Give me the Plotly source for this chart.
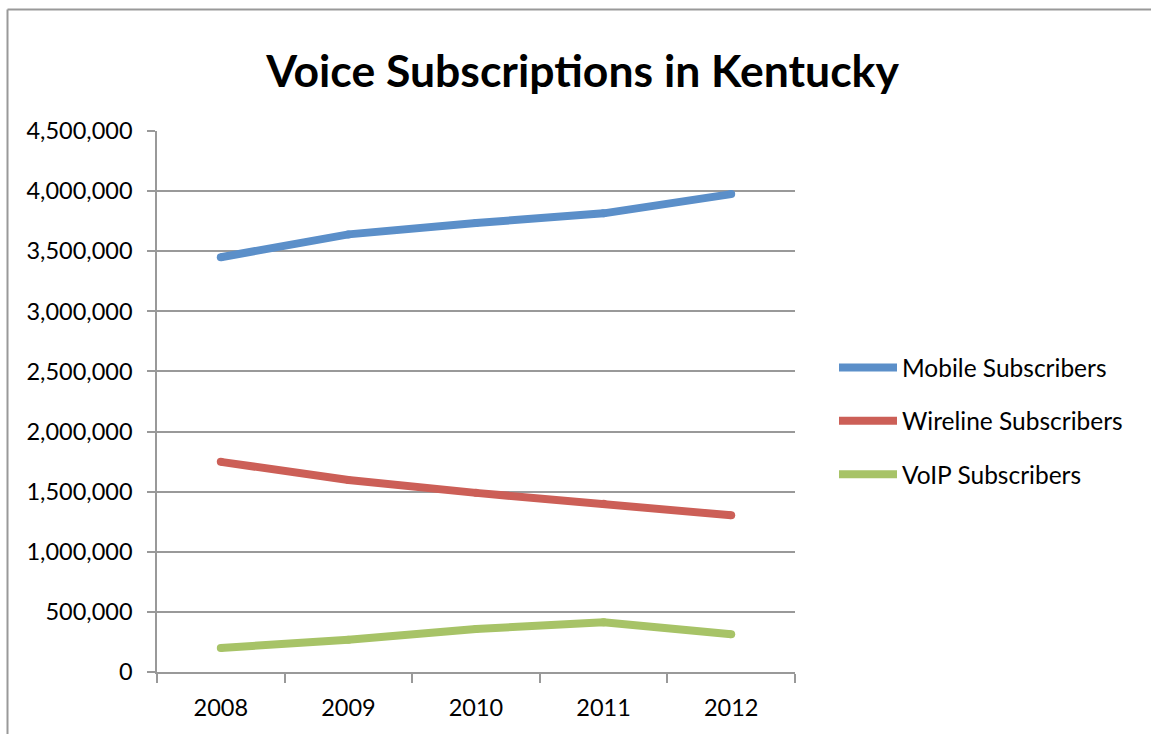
import plotly.graph_objects as go

years = ["2008", "2009", "2010", "2011", "2012"]
mobile = [3450000, 3640000, 3735000, 3815000, 3975000]
wireline = [1748000, 1597000, 1490000, 1400000, 1303000]
voip = [200000, 268000, 358000, 413000, 314000]

series_names = ["Mobile Subscribers", "Wireline Subscribers", "VoIP Subscribers"]
series_values = [mobile, wireline, voip]
colors = ["#5B8FC9", "#CC5F57", "#A7C367"]

W, H = 1151, 734
L, R, T, B = 157, 795, 131, 672
FONT = "Lato"

fig = go.Figure()
for i, (name, vals, col) in enumerate(zip(series_names, series_values, colors)):
    fig.add_trace(go.Scatter(
        x=years, y=vals, name=name, mode="lines",
        line=dict(color=col, width=8),
        legendgroup=str(i),
    ))
    # round end caps
    fig.add_trace(go.Scatter(
        x=years, y=vals, mode="markers", showlegend=False, hoverinfo="skip",
        marker=dict(color=col, size=8, line=dict(width=0)),
        legendgroup=str(i),
    ))

def px2x(px):
    return (px - L) / (R - L)

def py2y(py):
    return (B - py) / (B - T)

fig.update_layout(
    width=W, height=H,
    margin=dict(l=L, r=W - R, t=T, b=H - B, pad=0),
    paper_bgcolor="white", plot_bgcolor="white",
    font=dict(family=FONT, size=23.5, color="black"),
    title=dict(text="<b>Voice Subscriptions in Kentucky</b>",
               font=dict(family=FONT, size=44.5, color="black"),
               x=px2x(582.5), xref="paper", xanchor="center",
               y=1 - 71 / H, yref="container", yanchor="middle"),
    showlegend=True,
    legend=dict(x=px2x(834), xanchor="left", y=py2y(345), yanchor="top",
                font=dict(family=FONT, size=24.5, color="black"),
                traceorder="grouped", tracegroupgap=18.5, itemwidth=58,
                bgcolor="rgba(0,0,0,0)"),
    xaxis=dict(type="category", tickson="boundaries", ticks="outside",
               ticklen=9, tickcolor="#999999", tickwidth=1.5,
               showline=True, linecolor="#999999", linewidth=1.5,
               showgrid=False, ticklabelstandoff=14,
               tickfont=dict(family=FONT, size=23.5, color="black"),
               range=[-0.5, 4.5], fixedrange=True),
    yaxis=dict(range=[0, 4500000], dtick=500000, tickformat=",",
               ticks="outside", ticklen=8, tickcolor="#999999", tickwidth=1.5,
               showline=True, linecolor="#999999", linewidth=1.5,
               showgrid=True, gridcolor="#999999", gridwidth=1.5,
               zeroline=False, ticklabelstandoff=10,
               tickfont=dict(family=FONT, size=23.5, color="black")),
)

# outer chart frame (cropped)
fx = px2x(7.5)
fy = py2y(9.5)
fig.add_shape(type="line", xref="paper", yref="paper", x0=fx, y0=fy, x1=px2x(1160), y1=fy,
              line=dict(color="#999999", width=2))
fig.add_shape(type="line", xref="paper", yref="paper", x0=fx, y0=fy, x1=fx, y1=py2y(745),
              line=dict(color="#999999", width=2))

fig.write_html("out.html", config={"displayModeBar": False},
               post_script="document.body.style.margin='0px';")
